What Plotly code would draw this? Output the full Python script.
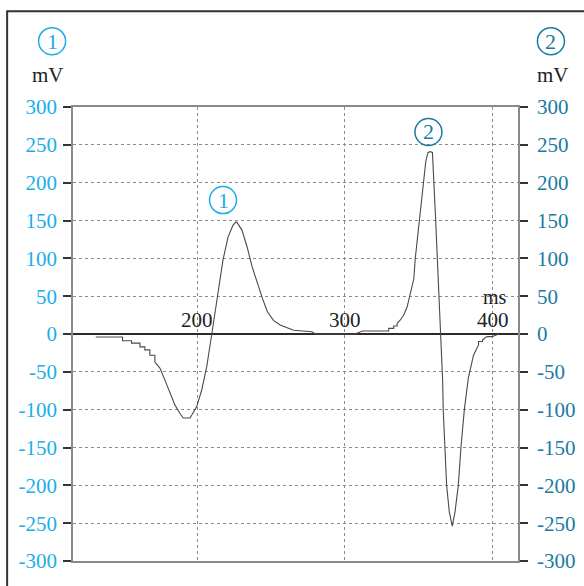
import plotly.graph_objects as go

# Signal trace: time (ms) and amplitude (mV)
T_MS = [
    131.5, 149.6, 149.6, 155.7, 155.7, 161.4, 161.4, 164.7, 164.7, 168.1,
    168.1, 171.5, 171.5, 174.9, 178.3, 181.7, 185.1, 188.5, 190.7, 195.3,
    197.5, 199.8, 203.2, 206.6, 210.0, 213.4, 214.2, 217.6, 221.0, 224.4,
    226.4, 227.2, 230.5, 233.9, 237.3, 240.7, 244.1, 247.5, 251.7, 256.3,
    265.3, 277.8, 280.0, 307.0, 311.9, 329.7, 329.7, 333.1, 333.1, 335.4,
    335.4, 337.6, 339.9, 342.2, 343.9, 344.4, 346.7, 347.7, 350.4, 352.9,
    354.8, 356.3, 357.8, 359.3, 360.0, 361.5, 362.6, 363.8, 364.9, 366.2,
    366.6, 367.8, 368.9, 370.7, 372.7, 374.6, 376.8, 378.6, 380.9, 383.6,
    387.1, 390.5, 390.5, 393.2, 393.2, 395.3, 396.6, 399.7, 401.9, 404.1,
]
V_MV = [
    -4, -4, -9, -9, -12, -12, -17, -17, -21, -21,
    -28, -28, -37, -45, -61, -78, -94, -105, -111, -111,
    -103, -96, -74, -43, 0, 45, 58, 98, 128, 144,
    148, 147, 137, 115, 89, 67, 48, 30, 18, 12,
    5, 3, 0, 0, 4, 4, 7.5, 7.5, 10.6, 10.6,
    14, 18.5, 25, 36, 50, 56, 73, 100, 150, 201,
    228, 240, 241, 240, 215, 150, 100, 50, 0, -61,
    -100, -150, -200, -235, -254, -235, -200, -150, -100, -58,
    -28, -14.5, -10, -10, -8, -4.4, -3.5, -3.5, -1.3, 0,
]

Y_TICKS = list(range(-300, 301, 50))
Y_LABELS = [str(v) for v in Y_TICKS]
X_TICKS = [200, 300, 400]
X_RANGE = [116.1, 417.2]
Y_RANGE = [-300, 300]

SERIF = "Liberation Serif, Times New Roman, serif"
LIGHT_BLUE = "#1aaee8"
TEAL = "#1b7aa2"
GRID = "#8a8a8a"

fig = go.Figure()
fig.add_trace(go.Scatter(
    x=T_MS, y=V_MV, mode="lines",
    line=dict(color="#4a4a4a", width=1.1),
    hoverinfo="skip", showlegend=False,
))
# invisible trace binding the right-hand axis
fig.add_trace(go.Scatter(
    x=[X_RANGE[0]], y=[0], yaxis="y2", mode="markers",
    marker=dict(opacity=0), hoverinfo="skip", showlegend=False,
))

fig.update_layout(
    width=584, height=586,
    margin=dict(l=73, r=66, t=107, b=25),
    paper_bgcolor="white", plot_bgcolor="white",
    font=dict(family=SERIF, size=21, color="#222"),
    xaxis=dict(
        range=X_RANGE, tickvals=X_TICKS, showticklabels=False, ticks="",
        showgrid=True, gridcolor=GRID, griddash="dot", gridwidth=1,
        zeroline=False, showline=True, linecolor=GRID, linewidth=1.5, mirror=True,
        automargin=False,
    ),
    yaxis=dict(
        range=Y_RANGE, tickvals=Y_TICKS, ticktext=Y_LABELS,
        ticks="outside", ticklen=8, tickcolor="#333", tickwidth=1.5,
        tickfont=dict(family=SERIF, size=21, color=LIGHT_BLUE),
        ticklabelstandoff=2,
        showgrid=True, gridcolor=GRID, griddash="dot", gridwidth=1,
        zeroline=True, zerolinecolor="#2a2a2a", zerolinewidth=1.6,
        showline=True, linecolor=GRID, linewidth=1.5,
        automargin=False,
    ),
    yaxis2=dict(
        range=Y_RANGE, tickvals=Y_TICKS, ticktext=Y_LABELS,
        overlaying="y", side="right",
        ticks="outside", ticklen=8, tickcolor="#333", tickwidth=1.5,
        tickfont=dict(family=SERIF, size=21, color=TEAL),
        ticklabelstandoff=5,
        showgrid=False, zeroline=False,
        showline=True, linecolor=GRID, linewidth=1.5,
        automargin=False,
    ),
)

shapes = [
    # outer frame around the figure
    dict(type="rect", xref="paper", yref="paper",
         x0=-0.148, x1=1.25, y0=-0.12, y1=1.211,
         line=dict(color="#333", width=2), layer="below"),
]

def circled(label, color, xref, yref, xa, ya):
    shapes.append(dict(
        type="circle", xref=xref, yref=yref,
        xsizemode="pixel", ysizemode="pixel", xanchor=xa, yanchor=ya,
        x0=-13.5, x1=13.5, y0=-13.5, y1=13.5,
        line=dict(color=color, width=1.5),
    ))
    fig.add_annotation(
        x=xa, y=ya, xref=xref, yref=yref, text=label, showarrow=False,
        font=dict(family=SERIF, size=22, color=color),
        xanchor="center", yanchor="middle",
    )

# channel markers above each axis
circled("1", LIGHT_BLUE, "paper", "paper", -0.047, 1.145)
circled("2", TEAL, "paper", "paper", 1.074, 1.145)
# channel markers next to each peak
circled("1", LIGHT_BLUE, "x", "y", 217.6, 177)
circled("2", TEAL, "x", "y", 356.6, 267)

fig.update_layout(shapes=shapes)

for xp in (-0.056, 1.078):
    fig.add_annotation(
        x=xp, y=1.0705, xref="paper", yref="paper", text="mV", showarrow=False,
        font=dict(family=SERIF, size=21, color="#222"),
        xanchor="center", yanchor="middle",
    )

# time labels sitting on the zero line
for t in X_TICKS:
    fig.add_annotation(
        x=t, y=0, xref="x", yref="y", text=str(t), showarrow=False,
        font=dict(family=SERIF, size=21, color="#222"),
        xanchor="center", yanchor="bottom", yshift=0,
    )
fig.add_annotation(
    x=401.4, y=49, xref="x", yref="y", text="ms", showarrow=False,
    font=dict(family=SERIF, size=20, color="#222"),
    xanchor="center", yanchor="middle",
)

fig.write_html("out.html")
